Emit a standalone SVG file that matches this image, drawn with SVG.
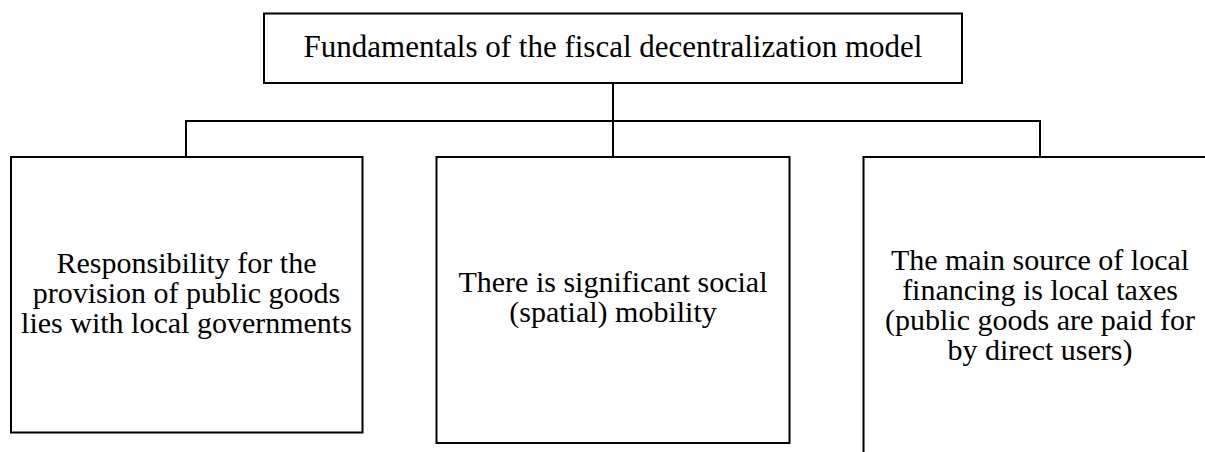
<svg xmlns="http://www.w3.org/2000/svg" width="1205" height="452" viewBox="0 0 1205 452">
<style>
.box{fill:#fff;stroke:#000;stroke-width:2}
.conn{fill:none;stroke:#000;stroke-width:2}
text{font-family:"Liberation Serif","DejaVu Serif",serif;font-size:30px;fill:#000;text-anchor:middle}
.title{font-size:31px}
</style>
<rect width="1205" height="452" fill="#fff"/>
<g id="connectors">
<line class="conn" x1="613" y1="83" x2="613" y2="157"/>
<line class="conn" x1="186" y1="121" x2="1040" y2="121"/>
<line class="conn" x1="186" y1="120" x2="186" y2="157"/>
<line class="conn" x1="1040" y1="120" x2="1040" y2="157"/>
</g>
<g id="root">
<rect class="box" x="264" y="13.5" width="698" height="69.5"/>
<text class="title" x="613" y="57">Fundamentals of the fiscal decentralization model</text>
</g>
<g id="node1">
<rect class="box" x="11" y="157" width="351.5" height="275.5"/>
<text x="186.5" y="273">Responsibility for the</text>
<text x="186.5" y="303">provision of public goods</text>
<text x="186.5" y="333">lies with local governments</text>
</g>
<g id="node2">
<rect class="box" x="436.5" y="157" width="353" height="286"/>
<text x="613" y="292">There is significant social</text>
<text x="613" y="322">(spatial) mobility</text>
</g>
<g id="node3">
<rect class="box" x="863.5" y="157" width="353" height="310"/>
<text x="1040" y="270">The main source of local</text>
<text x="1040" y="300">financing is local taxes</text>
<text x="1040" y="330">(public goods are paid for</text>
<text x="1040" y="360">by direct users)</text>
</g>
</svg>
